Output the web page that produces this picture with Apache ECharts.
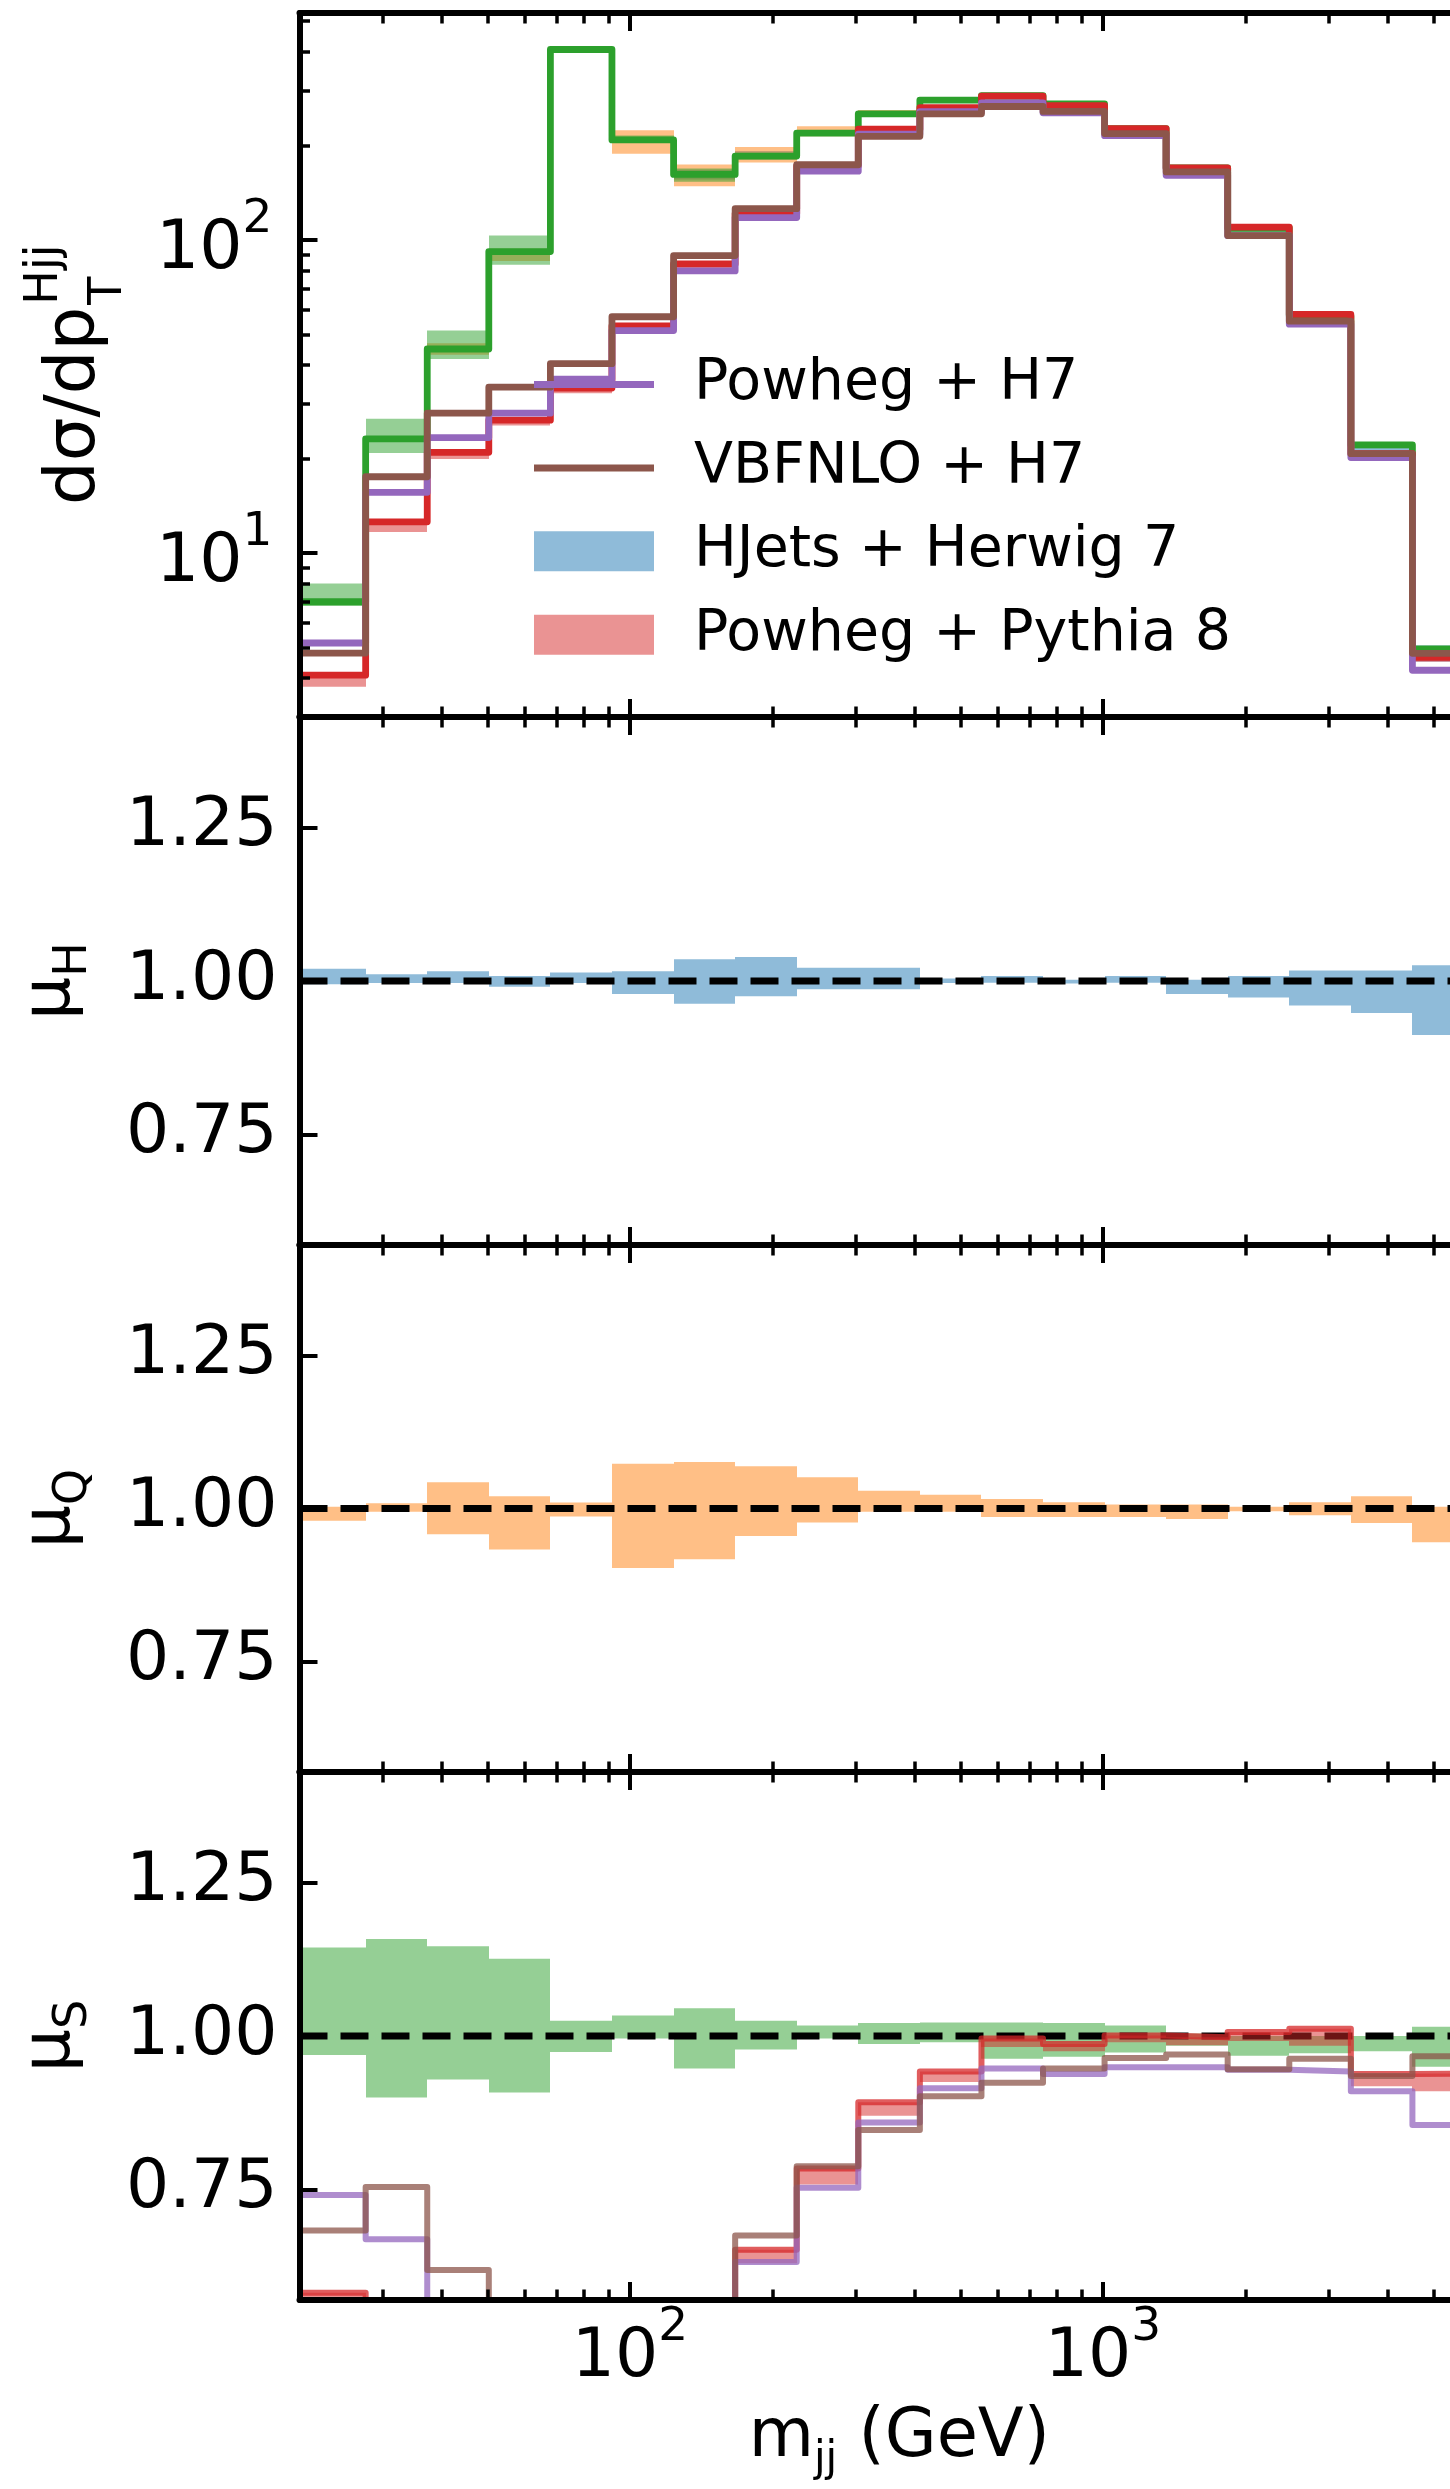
<!DOCTYPE html>
<html><head><meta charset="utf-8">
<script src="https://cdn.jsdelivr.net/npm/echarts@6/dist/echarts.min.js"></script>
<style>html,body{margin:0;padding:0;background:#fff}#c{width:1450px;height:2489px}</style>
</head><body><div id="c"></div>
<script>
// ---------- data ----------
const binEdges = [20, 27.6, 37.25, 50.27, 67.85, 91.56, 123.6, 166.8, 225.1, 303.8, 410.0, 553.4, 746.8, 1007.7, 1360, 1835, 2477, 3343, 4511, 6088];
const xRange = [20, 6000];

// top panel: dσ/dp_T (absolute)
const hjets      = [7.0, 23.2, 44.9, 91.9, 406, 208.8, 162, 185.4, 219.7, 253, 280, 289, 272, 227, 170, 109.3, 57.2, 22.2, 4.95];
const pwgPythia  = [4.08, 12.6, 21.0, 26.6, 33.7, 53.2, 83.9, 121.5, 172.5, 226, 265, 288, 268.5, 227, 170, 110, 57.9, 20.8, 4.65];
const pwgPythiaLow = [3.75, 11.7, 20.0, 25.6, 32.4, 51.4, 81.5, 118, 167, 220, 260, 284, 264, 224, 168, 108.5, 56.5, 20.2, 4.5];
const pwgH7      = [5.17, 15.65, 23.4, 28.0, 36.0, 51.4, 79.7, 118, 166, 218, 257, 274, 255, 215.4, 161, 103.3, 53.9, 20.2, 4.23];
const vbfnloH7   = [4.80, 17.55, 28.0, 33.9, 40.3, 56.9, 89.2, 126, 174, 214.5, 253, 267, 257.6, 218.8, 165, 103.4, 55.1, 20.8, 4.79];

// mu_H band (HJets, relative)
const muHLow  = [0.9948, 0.9966, 0.9966, 0.9907, 0.9966, 0.979, 0.963, 0.975, 0.9866, 0.9866, 0.9966, 0.997, 0.996, 0.997, 0.979, 0.973, 0.960, 0.948, 0.912];
const muHHigh = [1.020, 1.011, 1.016, 1.008, 1.014, 1.016, 1.0356, 1.039, 1.0216, 1.0216, 1.004, 1.008, 1.002, 1.008, 1.002, 1.008, 1.017, 1.017, 1.0257];
// mu_Q band
const muQLow  = [0.980, 0.9945, 0.958, 0.933, 0.987, 0.903, 0.917, 0.955, 0.977, 0.9945, 0.9945, 0.986, 0.986, 0.986, 0.983, 0.9955, 0.989, 0.9765, 0.945];
const muQHigh = [1.003, 1.0085, 1.043, 1.020, 1.0097, 1.073, 1.076, 1.069, 1.051, 1.029, 1.0226, 1.0157, 1.010, 1.0067, 1.0067, 1.003, 1.010, 1.020, 1.003];
// mu_S band
const muSLow  = [0.969, 0.900, 0.929, 0.908, 0.974, 0.996, 0.947, 0.978, 0.996, 0.987, 0.99, 0.963, 0.966, 0.973, 0.984, 0.968, 0.972, 0.975, 0.95];
const muSHigh = [1.144, 1.158, 1.146, 1.126, 1.025, 1.0335, 1.045, 1.025, 1.017, 1.021, 1.022, 1.022, 1.021, 1.017, 1.004, 1.0, 1.0, 1.0, 1.015];
// other generators relative to HJets (mu_S panel)
const ratioPwgPythia    = [0.582, 0.54, 0.47, 0.29, 0.08, 0.25, 0.52, 0.652, 0.784, 0.892, 0.942, 0.996, 0.987, 1.001, 0.998, 1.0065, 1.012, 0.938, 0.939];
const ratioPwgPythiaLow = [0.55, 0.51, 0.45, 0.28, 0.08, 0.24, 0.50, 0.63, 0.758, 0.87, 0.925, 0.982, 0.975, 0.99, 0.985, 0.992, 0.984, 0.918, 0.91];
const ratioPwgH7        = [0.741, 0.669, 0.52, 0.30, 0.09, 0.25, 0.49, 0.632, 0.753, 0.859, 0.915, 0.947, 0.938, 0.949, 0.949, 0.945, 0.942, 0.910, 0.855];
const ratioVbfnlo       = [0.683, 0.754, 0.619, 0.37, 0.10, 0.27, 0.55, 0.675, 0.788, 0.847, 0.902, 0.924, 0.947, 0.964, 0.970, 0.946, 0.963, 0.935, 0.967];

const xMajorTicks = [100, 1000];
const xMinorTicks = [30, 40, 50, 60, 70, 80, 90, 200, 300, 400, 500, 600, 700, 800, 900, 2000, 3000, 4000, 5000];
const yTopMajorTicks = [10, 100];
const yTopMinorTicks = [3, 4, 5, 6, 7, 8, 9, 20, 30, 40, 50, 60, 70, 80, 90, 200, 300, 400, 500];
const ratioTicks = [0.75, 1.00, 1.25];
const ratioRange = [0.57, 1.43];
const topRange = [3.0, 531];

// ---------- styling ----------
const FONT = 'DejaVu Sans';
const C = {blue:'#1f77b4', orange:'#ff7f0e', green:'#2ca02c', red:'#d62728', purple:'#9467bd', brown:'#8c564b'};
const A = (hex, a) => { const n = parseInt(hex.slice(1), 16); return `rgba(${n>>16},${(n>>8)&255},${n&255},${a})`; };

const L = 299.5, W = 1171.5;
const gridBase = {left: L, width: W, outerBoundsMode: 'none', containLabel: false};
const grids = [
  Object.assign({top: 13, height: 704}, gridBase),
  Object.assign({top: 717, height: 528}, gridBase),
  Object.assign({top: 1245, height: 527}, gridBase),
  Object.assign({top: 1772, height: 528}, gridBase)
];

const powRich = {
  b: {fontFamily: FONT, fontSize: 68, color: '#000', lineHeight: 88, verticalAlign: 'bottom'},
  s: {fontFamily: FONT, fontSize: 47, color: '#000', lineHeight: 47, verticalAlign: 'top'}
};
const powFmt = v => '{b|10}{s|' + Math.round(Math.log10(v)) + '}';

const xAxes = [];
grids.forEach((g, gi) => {
  ['bottom', 'top'].forEach(pos => {
    xAxes.push({
      gridIndex: gi, type: 'log', logBase: 10, min: xRange[0], max: xRange[1], position: pos, z: 10,
      axisLine: {show: true, onZero: false, lineStyle: {color: '#000', width: 6}},
      axisTick: {show: true, inside: true, length: 18, lineStyle: {color: '#000', width: 4}, customValues: xMajorTicks},
      axisLabel: (gi === 3 && pos === 'bottom') ? {show: true, customValues: xMajorTicks, formatter: powFmt, rich: powRich, margin: 4} : {show: false},
      splitLine: {show: false}, minorTick: {show: false},
      name: (gi === 3 && pos === 'bottom') ? '{m|m}{s|jj}{m| (GeV)}' : '',
      nameLocation: 'middle', nameGap: 97, nameMoveOverlap: false,
      nameTextStyle: {padding: [0, 0, 0, 28], rich: {
        m: {fontFamily: FONT, fontSize: 67, color: '#000', lineHeight: 84, verticalAlign: 'middle'},
        s: {fontFamily: FONT, fontSize: 42, color: '#000', lineHeight: 42, verticalAlign: 'bottom'}
      }}
    });
    xAxes.push({
      gridIndex: gi, type: 'log', logBase: 10, min: xRange[0], max: xRange[1], position: pos, z: 10,
      axisLine: {show: false, onZero: false},
      axisTick: {show: true, inside: true, length: 10.5, lineStyle: {color: '#000', width: 3.5}, customValues: xMinorTicks},
      axisLabel: {show: false}, splitLine: {show: false}
    });
  });
});
// x axis index for each grid's data: gi*4

const muName = sub => ({
  name: '{m|μ}{s|' + sub + '}', nameLocation: 'middle', nameRotate: 90, nameGap: 202, nameMoveOverlap: false,
  nameTextStyle: {rich: {
    m: {fontFamily: FONT, fontSize: 68, color: '#000', lineHeight: 92, verticalAlign: 'middle'},
    s: {fontFamily: FONT, fontSize: 46, color: '#000', lineHeight: 46, verticalAlign: 'bottom'}
  }}
});

const yAxes = [
  {
    gridIndex: 0, type: 'log', logBase: 10, min: topRange[0], max: topRange[1], position: 'left', z: 10,
    axisLine: {show: true, onZero: false, lineStyle: {color: '#000', width: 6}},
    axisTick: {show: true, inside: true, length: 18, lineStyle: {color: '#000', width: 4}, customValues: yTopMajorTicks},
    axisLabel: {show: true, customValues: yTopMajorTicks, formatter: powFmt, rich: powRich, margin: 27},
    splitLine: {show: false}
  },
  {
    gridIndex: 0, type: 'log', logBase: 10, min: topRange[0], max: topRange[1], position: 'left', z: 10,
    axisLine: {show: false, onZero: false},
    axisTick: {show: true, inside: true, length: 10.5, lineStyle: {color: '#000', width: 3.5}, customValues: yTopMinorTicks},
    axisLabel: {show: false}, splitLine: {show: false}
  }
];
['H', 'Q', 'S'].forEach((s, k) => {
  yAxes.push(Object.assign({
    gridIndex: k + 1, type: 'value', min: ratioRange[0], max: ratioRange[1], position: 'left', z: 10,
    axisLine: {show: true, onZero: false, lineStyle: {color: '#000', width: 6}},
    axisTick: {show: true, inside: true, length: 18, lineStyle: {color: '#000', width: 4}, customValues: ratioTicks},
    axisLabel: {show: true, customValues: ratioTicks, formatter: v => v.toFixed(2), fontFamily: FONT, fontSize: 68, color: '#000', margin: 22},
    splitLine: {show: false}
  }, muName(s)));
});

// ---------- series builders ----------
function stepData(vals) {
  const d = vals.map((v, i) => [binEdges[i], v]);
  d.push([binEdges[vals.length], vals[vals.length - 1]]);
  return d;
}
function stepLine(name, vals, xi, yi, color, z, width, opacity) {
  return {
    type: 'line', name, xAxisIndex: xi, yAxisIndex: yi, step: 'end', symbol: 'none', showSymbol: false,
    z, clip: true, silent: true, animation: false,
    lineStyle: {color, width, opacity: opacity == null ? 1 : opacity, join: 'round', cap: 'butt'},
    itemStyle: {color},
    data: stepData(vals)
  };
}
function band(name, lo, hi, xi, yi, color, z) {
  return {
    type: 'custom', name, xAxisIndex: xi, yAxisIndex: yi, z, clip: true, silent: true,
    encode: {x: [0, 1], y: [2, 3]},
    itemStyle: {color},
    renderItem(params, api) {
      const a = api.coord([api.value(0), api.value(3)]);
      const b = api.coord([api.value(1), api.value(2)]);
      const x0 = Math.round(a[0]), x1 = Math.round(b[0]);
      return {type: 'rect', shape: {x: x0, y: Math.min(a[1], b[1]), width: x1 - x0, height: Math.abs(b[1] - a[1])},
              style: {fill: color}};
    },
    data: lo.map((l, i) => [binEdges[i], binEdges[i + 1], l, hi[i]])
  };
}
function refLine(xi, yi) {
  return {
    type: 'line', name: 'ref', xAxisIndex: xi, yAxisIndex: yi, symbol: 'none', z: 5, silent: true,
    lineStyle: {color: '#000', width: 7, type: [28, 13]},
    data: [[xRange[0], 1], [xRange[1], 1]]
  };
}
const scaleBy = (base, rel) => base.map((v, i) => v * rel[i]);

const TOPW = 6.8, RATW = 6;
const series = [
  // top panel
  band('HJets μH band', scaleBy(hjets, muHLow), scaleBy(hjets, muHHigh), 0, 0, A(C.blue, 0.5), 1),
  band('HJets μQ band', scaleBy(hjets, muQLow), scaleBy(hjets, muQHigh), 0, 0, A(C.orange, 0.5), 1),
  band('HJets μS band', scaleBy(hjets, muSLow), scaleBy(hjets, muSHigh), 0, 0, A(C.green, 0.5), 1),
  band('Powheg + Pythia 8', pwgPythiaLow, pwgPythia, 0, 0, A(C.red, 0.5), 1),
  stepLine('HJets central', hjets, 0, 0, C.green, 6, TOPW),
  stepLine('Powheg + Pythia 8 line', pwgPythia, 0, 0, C.red, 7, TOPW),
  stepLine('Powheg + H7', pwgH7, 0, 0, C.purple, 8, TOPW),
  stepLine('VBFNLO + H7', vbfnloH7, 0, 0, C.brown, 9, TOPW),
  // mu_H
  band('HJets + Herwig 7', muHLow, muHHigh, 4, 2, A(C.blue, 0.5), 1),
  refLine(4, 2),
  // mu_Q
  band('HJets μQ ratio', muQLow, muQHigh, 8, 3, A(C.orange, 0.5), 1),
  refLine(8, 3),
  // mu_S
  band('HJets μS ratio', muSLow, muSHigh, 12, 4, A(C.green, 0.5), 1),
  refLine(12, 4),
  band('Pythia ratio band', ratioPwgPythiaLow, ratioPwgPythia, 12, 4, A(C.red, 0.5), 6),
  stepLine('Pythia ratio', ratioPwgPythia, 12, 4, C.red, 7, RATW, 0.75),
  stepLine('H7 ratio', ratioPwgH7, 12, 4, C.purple, 8, RATW, 0.75),
  stepLine('VBFNLO ratio', ratioVbfnlo, 12, 4, C.brown, 9, RATW, 0.75)
];

// ---------- top-panel y label: dσ/dp_T^{Hjj} (rotated, with stacked sub/superscript) ----------
const MAIN_FS = 69, SUB_FS = 46;
const mctx = document.createElement('canvas').getContext('2d');
mctx.font = MAIN_FS + 'px "' + FONT + '"';
const mainW = mctx.measureText('dσ/dp').width;
const yLabelGroup = {
  type: 'group', x: 75.8, y: 505, rotation: Math.PI / 2, silent: true, z: 20,
  children: [
    {type: 'text', x: 0, y: 0, style: {text: 'dσ/dp', font: MAIN_FS + 'px "' + FONT + '"', fill: '#000', align: 'left', verticalAlign: 'middle'}},
    {type: 'text', x: mainW + 2, y: 33, style: {text: 'T', font: SUB_FS + 'px "' + FONT + '"', fill: '#000', align: 'left', verticalAlign: 'middle'}},
    {type: 'text', x: mainW + 2, y: -30.5, style: {text: 'Hjj', font: SUB_FS + 'px "' + FONT + '"', fill: '#000', align: 'left', verticalAlign: 'middle'}}
  ]
};

const lineIcon = 'path://M0,0H120V7H0Z';
const chart = echarts.init(document.getElementById('c'), null, {renderer: 'canvas', width: 1450, height: 2489});
chart.setOption({
  animation: false,
  backgroundColor: '#fff',
  grid: grids,
  xAxis: xAxes,
  yAxis: yAxes,
  graphic: [yLabelGroup],
  legend: {
    orient: 'vertical', left: 529, top: 351, itemWidth: 120, itemHeight: 40, itemGap: 26.4,
    selectedMode: false, z: 20, symbolKeepAspect: true,
    textStyle: {fontFamily: FONT, fontSize: 57, color: '#000', padding: [0, 0, 0, 35]},
    data: [
      {name: 'Powheg + H7', icon: lineIcon, itemStyle: {color: C.purple}},
      {name: 'VBFNLO + H7', icon: lineIcon, itemStyle: {color: C.brown}},
      {name: 'HJets + Herwig 7', icon: 'rect', itemStyle: {color: A(C.blue, 0.5)}},
      {name: 'Powheg + Pythia 8', icon: 'rect', itemStyle: {color: A(C.red, 0.5)}}
    ]
  },
  series
});
</script></body></html>
